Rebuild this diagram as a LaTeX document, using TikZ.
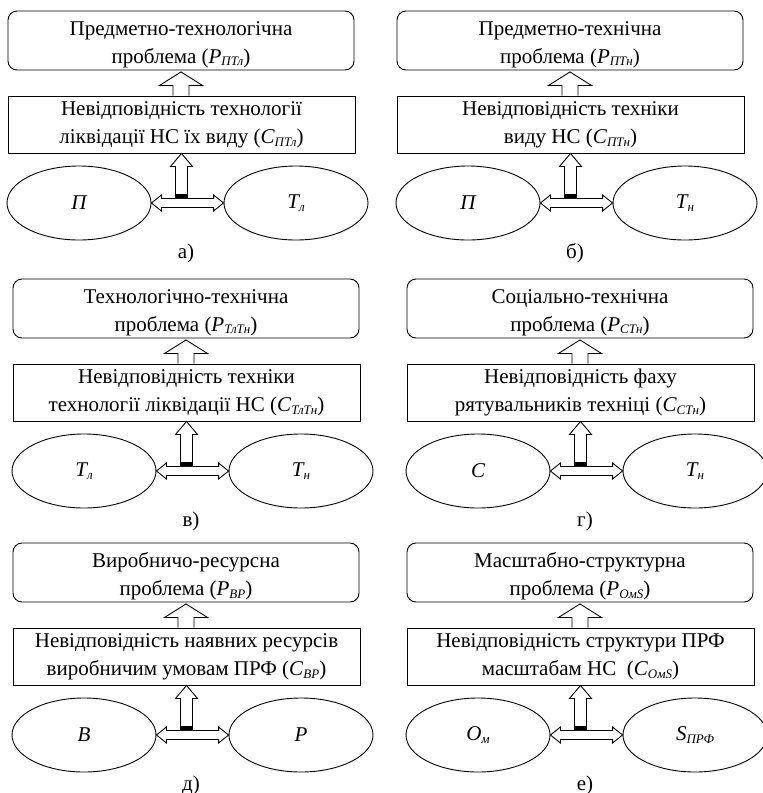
\documentclass[tikz,border=0pt]{standalone}
\usepackage{fontspec}
\setmainfont{Liberation Serif}
\usetikzlibrary{shapes.geometric,calc}

% small italic index set below the baseline
\newcommand\idx[1]{\raisebox{-0.3ex}{\fontsize{13}{13}\selectfont\itshape #1}}
% two centred lines, drawn a little below the middle of their box
\newcommand\lowpair[2]{\raisebox{-3pt}[\height][\depth]{\begin{tabular}{@{}c@{}}#1\\#2\end{tabular}}}

\tikzset{
  outline/.style={draw, line width=0.9pt},
  problem/.style={outline, rounded corners=9pt, minimum width=346pt, minimum height=59pt,
    inner sep=0pt, font=\fontsize{21}{28}\selectfont},
  mismatch/.style={outline, minimum width=347pt, minimum height=57pt,
    align=center, inner sep=0pt, font=\fontsize{21}{28}\selectfont},
  factor/.style={outline, ellipse, minimum width=144pt, minimum height=74pt,
    inner sep=0pt, font=\fontsize{21}{24}\selectfont\itshape},
  caption/.style={font=\fontsize{21}{24}\selectfont},
  hollow/.style={outline, fill=white, line join=miter},
}

% one panel: name, left edge, top edge, problem (two lines), mismatch, left factor, right factor, caption
\newcommand\probpanel[9]{%
  \node[problem]  (#1-top) at (#2+173, #3+29.5) {\lowpair{#4}{#5}};
  \node[mismatch] (#1-mid) at (#2+173.5, #3+113.5) {#6};
  \node[factor]   (#1-l)   at (#2+71, #3+192) {#7};
  \node[factor]   (#1-r)   at (#2+288, #3+192) {#8};
  \node[caption]  (#1-cap) at (#2+178, #3+242) {#9};
  % mismatch -> problem
  \draw[hollow] let \p1=(#1-mid.north), \p2=(#1-top.south) in
    (\x2-8pt,\y1) -- (\x2-8pt,\y2-15pt) -- (\x2-21.5pt,\y2-15pt) -- (\x2,\y2-1.5pt)
    -- (\x2+21.5pt,\y2-15pt) -- (\x2+8pt,\y2-15pt) -- (\x2+8pt,\y1);
  % factor <-> factor
  \draw[hollow] let \p1=(#1-l.east), \p2=(#1-r.west) in
    (\x1,\y1) -- (\x1+10pt,\y1+8pt) -- (\x1+10pt,\y1+4.5pt) -- (\x2-10pt,\y1+4.5pt)
    -- (\x2-10pt,\y1+8pt) -- (\x2,\y1) -- (\x2-10pt,\y1-8pt) -- (\x2-10pt,\y1-4.5pt)
    -- (\x1+10pt,\y1-4.5pt) -- (\x1+10pt,\y1-8pt) -- cycle;
  % interaction -> mismatch
  \draw[hollow] let \p1=(#1-l.east), \p2=(#1-mid.south) in
    (\x2-6pt,\y1+5pt) -- (\x2-6pt,\y2-13pt) -- (\x2-11pt,\y2-13pt) -- (\x2,\y2)
    -- (\x2+11pt,\y2-13pt) -- (\x2+6pt,\y2-13pt) -- (\x2+6pt,\y1+5pt) -- cycle;
  \fill let \p1=(#1-l.east), \p2=(#1-mid.south) in
    (\x2-6pt,\y1+5pt) rectangle (\x2+6pt,\y1+9.5pt);
}

\begin{document}
\begin{tikzpicture}[x=1pt, y=-1pt]
  \useasboundingbox (0,0) rectangle (763,793);

  \probpanel{a}{8}{11}
    {Предметно-технологічна}{проблема (\textit{P}\idx{ПТл})}
    {Невідповідність технології\\ліквідації НС їх виду (\textit{C}\idx{ПТл})}
    {П}{Т\idx{л}}{а)}

  \probpanel{b}{397}{11}
    {Предметно-технічна}{проблема (\textit{P}\idx{ПТн})}
    {Невідповідність техніки\\виду НС (\textit{C}\idx{ПТн})}
    {П}{Т\idx{н}}{б)}

  \probpanel{c}{13}{279}
    {Технологічно-технічна}{проблема (\textit{P}\idx{ТлТн})}
    {Невідповідність техніки\\технології ліквідації НС (\textit{C}\idx{ТлТн})}
    {Т\idx{л}}{Т\idx{н}}{в)}

  \probpanel{d}{407}{279}
    {Соціально-технічна}{проблема (\textit{P}\idx{СТн})}
    {Невідповідність фаху\\рятувальників техніці (\textit{C}\idx{СТн})}
    {С}{Т\idx{н}}{г)}

  \probpanel{e}{13}{543}
    {Виробничо-ресурсна}{проблема (\textit{P}\idx{ВР})}
    {Невідповідність наявних ресурсів\\виробничим умовам ПРФ (\textit{C}\idx{ВР})}
    {В}{Р}{д)}

  \probpanel{f}{407}{543}
    {Масштабно-структурна}{проблема (\textit{P}\idx{ОмS})}
    {Невідповідність структури ПРФ\\масштабам НС \ (\textit{C}\idx{ОмS})}
    {О\idx{м}}{S\idx{ПРФ}}{е)}
\end{tikzpicture}
\end{document}
